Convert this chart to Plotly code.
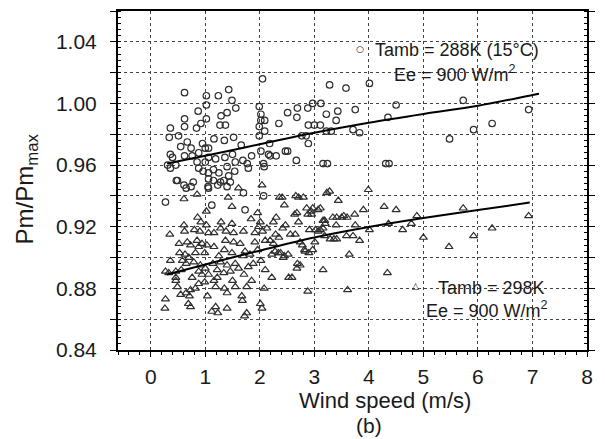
import plotly.graph_objects as go

# ---- data ----
x288 = [0.62,0.36,0.34,0.51,0.62,0.62,0.55,0.67,0.74,0.36,0.40,0.31,0.36,0.46,0.47,0.61,0.65,0.74,0.78,0.62,
        0.76,0.87,0.84,0.92,1.02,1.02,1.02,1.24,1.43,1.49,1.56,1.29,1.40,1.27,1.37,1.52,1.16,1.35,0.95,1.00,
        1.06,0.88,0.85,0.88,1.00,1.06,1.19,1.36,1.50,1.66,1.55,0.96,1.06,1.15,1.06,1.25,1.40,1.43,1.54,1.15,
        1.34,1.40,1.23,1.06,1.69,1.77,1.70,1.85,1.79,1.99,2.02,2.05,2.02,2.09,1.99,2.09,1.99,2.02,2.07,2.08,
        2.16,2.18,0.27,1.12,1.73,2.07,0.49,1.05,1.28,1.46,
        3.28,3.58,4.01,4.50,2.97,3.12,2.88,2.69,2.68,2.51,2.35,3.22,3.43,3.40,3.75,2.89,3.00,3.11,3.22,3.31,
        3.71,3.83,2.77,2.85,2.89,2.47,2.51,2.19,2.30,2.67,3.16,3.24,4.31,4.37,4.35,
        5.48,5.73,5.92,6.26,6.93]
y288 = [1.007,0.984,0.978,0.979,0.990,0.985,0.972,0.975,0.971,0.967,0.965,0.960,0.958,0.960,0.950,0.947,0.945,0.946,0.949,0.966,
        0.966,0.995,0.984,0.987,1.005,0.999,0.990,1.005,1.009,1.002,0.997,0.992,0.994,0.986,0.986,0.978,0.977,0.976,0.974,0.971,
        0.971,0.968,0.962,0.958,0.962,0.965,0.964,0.965,0.967,0.973,0.962,0.956,0.955,0.957,0.951,0.955,0.959,0.953,0.956,0.950,
        0.950,0.946,0.947,0.945,0.963,0.961,0.942,0.966,0.958,0.998,0.993,1.016,0.989,0.989,0.985,0.982,0.979,0.969,0.961,0.959,
        0.967,0.974,0.936,0.934,0.931,0.940,0.950,0.946,0.949,0.949,
        1.012,1.010,1.013,0.999,1.000,1.000,0.997,0.997,0.991,0.994,0.987,0.993,0.995,0.989,0.996,0.986,0.986,0.986,0.982,0.982,
        0.983,0.981,0.979,0.979,0.974,0.969,0.969,0.966,0.966,0.963,0.961,0.961,0.961,0.961,0.991,
        0.977,1.002,0.983,0.987,0.996]

x298 = [0.61,0.85,1.42,1.61,2.04,1.49,
        1.02,0.86,0.92,1.29,1.49,1.84,1.96,2.01,
        0.61,0.62,0.80,0.90,1.02,1.16,1.28,1.38,1.52,1.70,1.91,1.98,2.05,2.13,0.35,1.06,
        0.52,0.67,0.73,0.85,0.88,0.94,1.03,1.16,1.37,1.52,1.64,1.73,1.91,2.10,1.96,1.35,1.82,0.53,0.63,0.82,
        0.99,1.25,0.70,0.36,1.49,1.70,
        0.27,0.33,0.46,0.58,0.65,0.56,0.79,0.91,0.88,1.00,1.06,1.14,1.22,1.28,1.40,1.34,1.46,1.55,1.61,1.71,
        1.79,1.88,2.02,2.10,0.76,0.94,0.46,1.22,
        0.46,0.49,0.55,0.65,0.73,0.82,0.88,0.99,1.04,1.16,1.19,1.35,1.40,1.50,1.55,1.67,1.76,1.85,2.08,0.71,
        0.27,0.26,0.69,0.73,1.19,1.23,1.12,1.40,1.68,1.72,1.76,2.01,2.04,
        2.41,2.71,2.80,3.28,3.44,3.99,2.45,2.86,2.97,3.11,2.68,2.88,2.95,2.30,2.25,2.47,2.71,3.16,3.20,3.41,
        3.50,3.60,3.74,3.90,4.28,4.50,4.88,2.29,2.35,2.56,2.65,2.91,3.02,3.11,3.16,3.29,3.41,3.71,3.83,4.01,
        2.19,2.25,2.74,2.82,2.97,2.22,2.28,2.38,2.45,2.52,3.64,2.74,2.68,3.16,4.34,2.22,2.59,2.88,3.61,
        3.40,3.75,4.62,4.36,4.78,5.00,5.47,5.73,5.92,6.26,6.93,
        2.42,2.34,2.43,2.78,2.83,2.90,3.01,2.64,2.69,2.53,3.07,3.19,3.34,3.54,2.94,3.07,3.19,3.36,3.59,2.36,
        2.66,3.23]
y298 = [0.938,0.941,0.939,0.945,0.947,0.933,
        0.930,0.926,0.923,0.923,0.922,0.925,0.929,0.923,
        0.921,0.917,0.918,0.917,0.921,0.916,0.919,0.917,0.916,0.917,0.916,0.920,0.917,0.919,0.915,0.916,
        0.909,0.910,0.908,0.911,0.907,0.909,0.908,0.907,0.911,0.910,0.909,0.904,0.910,0.911,0.905,0.905,0.902,0.903,0.902,0.903,
        0.903,0.901,0.900,0.898,0.903,0.901,
        0.891,0.890,0.891,0.898,0.896,0.892,0.897,0.895,0.891,0.893,0.889,0.896,0.892,0.897,0.895,0.890,0.891,0.896,0.893,0.889,
        0.894,0.896,0.898,0.892,0.887,0.889,0.887,0.887,
        0.885,0.881,0.876,0.877,0.879,0.880,0.883,0.884,0.875,0.885,0.881,0.880,0.877,0.885,0.881,0.875,0.881,0.885,0.880,0.875,
        0.873,0.867,0.870,0.868,0.868,0.864,0.865,0.867,0.872,0.862,0.864,0.870,0.867,
        0.939,0.939,0.939,0.943,0.937,0.944,0.934,0.932,0.932,0.932,0.929,0.928,0.928,0.926,0.923,0.921,0.923,0.924,0.922,0.926,
        0.926,0.926,0.928,0.931,0.933,0.931,0.927,0.915,0.913,0.915,0.915,0.918,0.918,0.918,0.919,0.912,0.912,0.914,0.911,0.918,
        0.911,0.909,0.910,0.905,0.905,0.902,0.904,0.903,0.901,0.902,0.902,0.895,0.893,0.892,0.890,0.887,0.887,0.878,0.879,
        0.921,0.921,0.918,0.922,0.922,0.913,0.907,0.932,0.914,0.919,0.927,
        0.919,0.903,0.900,0.908,0.904,0.903,0.910,0.928,0.896,0.887,0.931,0.924,0.926,0.927,0.930,0.917,0.914,0.912,0.914,0.939,
        0.940,0.942]

fit_x = [0.3, 1, 2, 3, 4, 5, 6, 7, 7.12]
fit_288 = [0.961, 0.966, 0.9735, 0.981, 0.9875, 0.9932, 0.9985, 1.0055, 1.0063]
fit_x298 = [0.3, 1, 2, 3, 4, 5, 6, 6.95]
fit_298 = [0.889, 0.8955, 0.9045, 0.913, 0.9198, 0.9256, 0.9308, 0.9357]

x_ticks = [0, 1, 2, 3, 4, 5, 6, 7, 8]
y_ticks = [0.84, 0.86, 0.88, 0.90, 0.92, 0.94, 0.96, 0.98, 1.00, 1.02, 1.04, 1.06]
y_labels = ["0.84", "", "0.88", "", "0.92", "", "0.96", "", "1.00", "", "1.04", ""]

FONT = "Liberation Sans, Arial, Helvetica, sans-serif"
INK = "#1a1a1a"
MK = "#2e2e2e"

fig = go.Figure()
fig.add_trace(go.Scatter(x=x288, y=y288, mode="markers",
                         marker=dict(symbol="circle-open", size=6.5, color=MK, line=dict(width=1.2, color=MK)),
                         showlegend=False))
fig.add_trace(go.Scatter(x=x298, y=y298, mode="markers",
                         marker=dict(symbol="triangle-up-open", size=7, color=MK, line=dict(width=1.2, color=MK)),
                         showlegend=False))
fig.add_trace(go.Scatter(x=fit_x, y=fit_288, mode="lines", line=dict(color="black", width=2, shape="spline"),
                         showlegend=False))
fig.add_trace(go.Scatter(x=fit_x298, y=fit_298, mode="lines", line=dict(color="black", width=2, shape="spline"),
                         showlegend=False))

grid = dict(showgrid=True, gridcolor="#444", griddash="dot", gridwidth=1)

fig.update_xaxes(range=[-0.6, 8], tickvals=x_ticks, ticks="outside", ticklen=5, tickwidth=1.2,
                 tickcolor="black", showline=True, linecolor="black", linewidth=2, mirror=True,
                 tickfont=dict(family=FONT, size=21, color=INK), ticklabelstandoff=2,
                 minor=dict(dtick=0.2, ticks="outside", ticklen=3, tickcolor="black", showgrid=False),
                 zeroline=False, automargin=False, **grid)
fig.update_yaxes(range=[0.84, 1.06], tickvals=y_ticks, ticktext=y_labels, ticks="outside", ticklen=6,
                 tickwidth=1.2, tickcolor="black", showline=True, linecolor="black", linewidth=2,
                 mirror="ticks", tickfont=dict(family=FONT, size=21, color=INK), ticklabelstandoff=9,
                 minor=dict(dtick=0.004, ticks="inside", ticklen=3, tickcolor="black", showgrid=False),
                 zeroline=False, automargin=False, **grid)

ann = [
    dict(text="Pm/Pm<sub>max</sub>", x=-0.195, y=0.475, textangle=-90, font=dict(size=24)),
    dict(text="Wind speed (m/s)", x=0.569, y=-0.15, font=dict(size=22)),
    dict(text="(b)", x=0.535, y=-0.222, font=dict(size=21)),
    dict(text="Tamb = 288K (15°C)", x=0.544, y=0.885, xanchor="left", font=dict(size=18)),
    dict(text="Ee = 900 W/m<sup>2</sup>", x=0.719, y=0.816, font=dict(size=18)),
    dict(text="Tamb = 298K", x=0.678, y=0.183, xanchor="left", font=dict(size=18)),
    dict(text="Ee = 900 W/m<sup>2</sup>", x=0.787, y=0.118, font=dict(size=18)),
    dict(text="○", x=0.516, y=0.888, font=dict(size=9, family="DejaVu Sans", color="#111")),
    dict(text="△", x=0.635, y=0.188, font=dict(size=9, family="DejaVu Sans", color="#111")),
]
for a in ann:
    f = dict(family=FONT, color=INK)
    f.update(a.pop("font"))
    a.setdefault("xanchor", "center")
    fig.add_annotation(xref="paper", yref="paper", showarrow=False, yanchor="middle", font=f, **a)

# the page body has an 8px margin; size the figure so the plot area lands where the reference has it
fig.update_layout(width=597, height=431, margin=dict(l=110, r=18, t=3, b=89),
                  paper_bgcolor="white", plot_bgcolor="white", showlegend=False)

fig.write_html("out.html")
